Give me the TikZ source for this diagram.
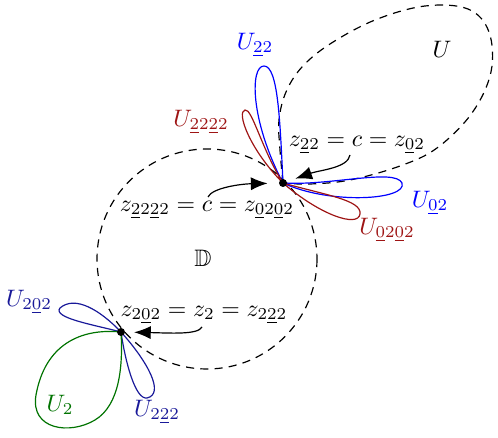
\documentclass[tikz,border=0pt]{standalone}
\usepackage{amssymb}
\usetikzlibrary{arrows.meta}
\definecolor{lobered}{rgb}{0.62,0.08,0.08}
\definecolor{lobenavy}{rgb}{0.1,0.1,0.6}
\definecolor{lobegreen}{rgb}{0.0,0.45,0.0}
\newcommand{\ul}[1]{\underline{#1}}
\tikzset{
  dom/.style={dash pattern=on 3.4pt off 2.6pt, line width=0.5pt},
  lobe/.style={line width=0.5pt},
  pt/.style={fill=black},
  callout/.style={-{Latex[length=7pt,width=5.5pt]}, line width=0.5pt},
  lbl/.style={inner sep=1pt}
}
\begin{document}
\begin{tikzpicture}[x=0.42pt,y=-0.42pt]
\useasboundingbox (0,0) rectangle (498,438);
% key points
\coordinate (c) at (283,183);
\coordinate (z2) at (121,332);
% disk D
\draw[dom] (207,259) circle[radius=110];
% domain U
\draw[dom] plot[smooth, tension=0.6] coordinates {(283,183) (280,150) (279,120) (286,92) (302,67) (330,44) (375,20) (425,6) (468,9) (489,32) (491,72) (472,113) (437,148) (400,166) (350,180) (310,184) (283,183)};
% lobes at c
\draw[lobe, blue] (c) .. controls (250,120) and (250,66) .. (264,66) .. controls (278,66) and (280,120) .. (c);
\draw[lobe, lobered] (c) .. controls (250,150) and (236,112) .. (245,110) .. controls (252,108) and (262,150) .. (c);
\draw[lobe, blue] (c) .. controls (330,186) and (395,168) .. (402,183) .. controls (408,200) and (330,205) .. (c);
\draw[lobe, lobered] (c) .. controls (325,195) and (362,200) .. (360,214) .. controls (358,228) and (320,215) .. (c);
% lobes at z2
\draw[lobe, lobenavy] (z2) .. controls (100,310) and (75,295) .. (60,308) .. controls (52,318) and (95,325) .. (z2);
\draw[lobe, lobenavy] (z2) .. controls (125,360) and (135,400) .. (147,398) .. controls (165,394) and (148,362) .. (z2);
\draw[lobe, lobegreen] (z2) .. controls (80,328) and (45,345) .. (36,395) .. controls (30,430) and (70,435) .. (95,420) .. controls (120,405) and (123,365) .. (z2);
% points
\fill[pt] (c) circle[radius=4];
\fill[pt] (z2) circle[radius=4];
% labels
\node[lbl, blue] (l22) at (255,45) {$U_{\ul{2}2}$};
\node[lbl, lobered] (l2222) at (201,122) {$U_{\ul{2}2\ul{2}2}$};
\node[lbl] (lU) at (442,49) {$U$};
\node[lbl] (lz22) at (357,145) {$z_{\ul{2}2}=c=z_{\ul{0}2}$};
\node[lbl, blue] (l02) at (430,203) {$U_{\ul{0}2}$};
\node[lbl, lobered] (l0202) at (387,230) {$U_{\ul{0}2\ul{0}2}$};
\node[lbl] (lz2222) at (207,210) {$z_{\ul{2}2\ul{2}2}=c=z_{\ul{0}2\ul{0}2}$};
\node[lbl] (lD) at (203,258) {$\mathbb{D}$};
\node[lbl, lobenavy] (l202) at (29,302) {$U_{2\ul{0}2}$};
\node[lbl] (lz202) at (204,315) {$z_{2\ul{0}2}=z_2=z_{2\ul{2}2}$};
\node[lbl, lobegreen] (l2) at (60,405) {$U_2$};
\node[lbl, lobenavy] (l222) at (157,412) {$U_{2\ul{2}2}$};
% arrow start coordinates
\coordinate (a1) at (350,155);
\coordinate (a2) at (208,197);
\coordinate (a3) at (202,327);
\draw[callout, shorten >=5.5pt] (a1) .. controls (348,168) and (320,170) .. (c);
\draw[callout, shorten >=6.5pt] (a2) .. controls (212,188) and (240,184) .. (c);
\draw[callout, shorten >=5.5pt] (a3) .. controls (198,335) and (170,333) .. (z2);
\end{tikzpicture}
\end{document}
